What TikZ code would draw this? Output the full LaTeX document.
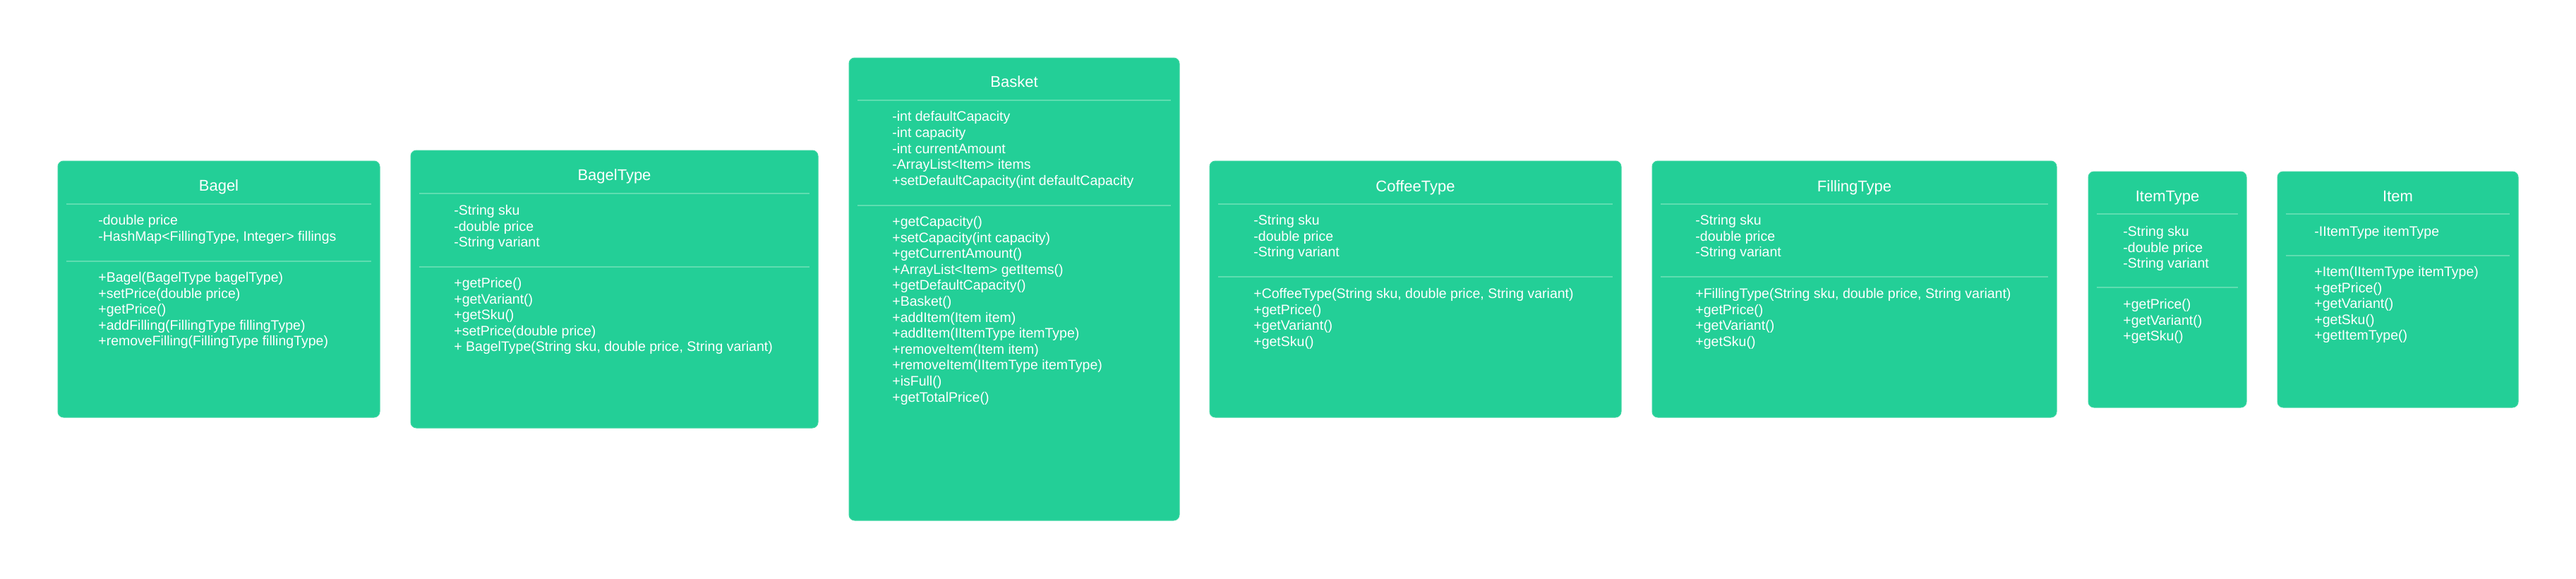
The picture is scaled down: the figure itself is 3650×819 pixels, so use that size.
\documentclass[tikz,border=0pt]{standalone}
\usepackage{fontspec}
\setmainfont{Liberation Sans}
\definecolor{boxfill}{HTML}{23CF97}
\definecolor{boxline}{HTML}{3ED6A2}
\definecolor{divline}{HTML}{5EDDB0}
\begin{document}
\begin{tikzpicture}[x=0.5pt,y=-0.5pt,
  classbox/.style={draw=boxline,line width=0.5pt,fill=boxfill,rounded corners=4pt,inner sep=0pt,outer sep=0pt,anchor=north west},
  divider/.style={draw=divline,line width=0.8pt},
  title/.style={text=white,inner sep=0pt,anchor=base,font=\fontsize{11pt}{13pt}\selectfont},
  members/.style={text=white,inner sep=0pt,anchor=north west,align=left,font=\fontsize{9.75pt}{11.3pt}\selectfont}]
\useasboundingbox (0,0) rectangle (3650,819);
\fill[white] (0,0) rectangle (3650,819);

% Bagel
\node[classbox,minimum width=228pt,minimum height=181.5pt] (bagel) at (82,228) {};
\node[title] (bagelT) at (310,270) {Bagel};
\draw[divider] ([xshift=6pt]bagel.west |- 0,289) -- ([xshift=-6pt]bagel.east |- 0,289);
\draw[divider] ([xshift=6pt]bagel.west |- 0,370) -- ([xshift=-6pt]bagel.east |- 0,370);
\node[members] (bagelA) at (139,302.2) {\strut-double price\\-HashMap<FillingType, Integer> fillings};
\node[members] (bagelM) at (139,383.2) {\strut+Bagel(BagelType bagelType)\\+setPrice(double price)\\+getPrice()\\+addFilling(FillingType fillingType)\\+removeFilling(FillingType fillingType)};

% BagelType
\node[classbox,minimum width=288.5pt,minimum height=196.5pt] (bageltype) at (582,213) {};
\node[title] (bageltypeT) at (870.5,255) {BagelType};
\draw[divider] ([xshift=6pt]bageltype.west |- 0,274) -- ([xshift=-6pt]bageltype.east |- 0,274);
\draw[divider] ([xshift=6pt]bageltype.west |- 0,378) -- ([xshift=-6pt]bageltype.east |- 0,378);
\node[members] (bageltypeA) at (643,288.2) {\strut-String sku\\-double price\\-String variant};
\node[members] (bageltypeM) at (643,391.2) {\strut+getPrice()\\+getVariant()\\+getSku()\\+setPrice(double price)\\+ BagelType(String sku, double price, String variant)};

% Basket
\node[classbox,minimum width=234pt,minimum height=327.5pt] (basket) at (1203,82) {};
\node[title] (basketT) at (1437,123.5) {Basket};
\draw[divider] ([xshift=6pt]basket.west |- 0,142) -- ([xshift=-6pt]basket.east |- 0,142);
\draw[divider] ([xshift=6pt]basket.west |- 0,291) -- ([xshift=-6pt]basket.east |- 0,291);
\node[members] (basketA) at (1264,155.7) {\strut-int defaultCapacity\\-int capacity\\-int currentAmount\\-ArrayList<Item> items\\+setDefaultCapacity(int defaultCapacity};
\node[members] (basketM) at (1264,304.2) {\strut+getCapacity()\\+setCapacity(int capacity)\\+getCurrentAmount()\\+ArrayList<Item> getItems()\\+getDefaultCapacity()\\+Basket()\\+addItem(Item item)\\+addItem(IItemType itemType)\\+removeItem(Item item)\\+removeItem(IItemType itemType)\\+isFull()\\+getTotalPrice()};

% CoffeeType
\node[classbox,minimum width=291.5pt,minimum height=181.5pt] (coffee) at (1714,228) {};
\node[title] (coffeeT) at (2005.5,271) {CoffeeType};
\draw[divider] ([xshift=6pt]coffee.west |- 0,289) -- ([xshift=-6pt]coffee.east |- 0,289);
\draw[divider] ([xshift=6pt]coffee.west |- 0,392) -- ([xshift=-6pt]coffee.east |- 0,392);
\node[members] (coffeeA) at (1776,302.2) {\strut-String sku\\-double price\\-String variant};
\node[members] (coffeeM) at (1776,406.2) {\strut+CoffeeType(String sku, double price, String variant)\\+getPrice()\\+getVariant()\\+getSku()};

% FillingType
\node[classbox,minimum width=286.5pt,minimum height=181.5pt] (filling) at (2341,228) {};
\node[title] (fillingT) at (2627.5,271) {FillingType};
\draw[divider] ([xshift=6pt]filling.west |- 0,289) -- ([xshift=-6pt]filling.east |- 0,289);
\draw[divider] ([xshift=6pt]filling.west |- 0,392) -- ([xshift=-6pt]filling.east |- 0,392);
\node[members] (fillingA) at (2402,302.2) {\strut-String sku\\-double price\\-String variant};
\node[members] (fillingM) at (2402,406.2) {\strut+FillingType(String sku, double price, String variant)\\+getPrice()\\+getVariant()\\+getSku()};

% ItemType
\node[classbox,minimum width=112pt,minimum height=167pt] (itemtype) at (2959,243) {};
\node[title] (itemtypeT) at (3071,285) {ItemType};
\draw[divider] ([xshift=6pt]itemtype.west |- 0,303) -- ([xshift=-6pt]itemtype.east |- 0,303);
\draw[divider] ([xshift=6pt]itemtype.west |- 0,407) -- ([xshift=-6pt]itemtype.east |- 0,407);
\node[members] (itemtypeA) at (3008,318.2) {\strut-String sku\\-double price\\-String variant};
\node[members] (itemtypeM) at (3008,421.2) {\strut+getPrice()\\+getVariant()\\+getSku()};

% Item
\node[classbox,minimum width=170.5pt,minimum height=167pt] (item) at (3227,243) {};
\node[title] (itemT) at (3397.5,285) {Item};
\draw[divider] ([xshift=6pt]item.west |- 0,303) -- ([xshift=-6pt]item.east |- 0,303);
\draw[divider] ([xshift=6pt]item.west |- 0,362) -- ([xshift=-6pt]item.east |- 0,362);
\node[members] (itemA) at (3279,318.2) {\strut-IItemType itemType};
\node[members] (itemM) at (3279,375.2) {\strut+Item(IItemType itemType)\\+getPrice()\\+getVariant()\\+getSku()\\+getItemType()};
\end{tikzpicture}
\end{document}
